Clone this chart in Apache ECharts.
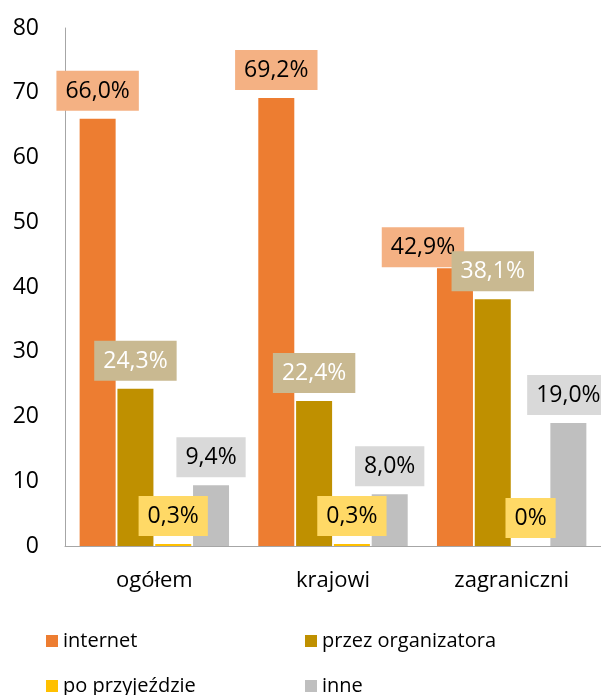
<!DOCTYPE html>
<html>
<head>
<meta charset="utf-8">
<script src="https://cdn.jsdelivr.net/npm/echarts@6/dist/echarts.min.js"></script>
<style>
  html, body { margin: 0; padding: 0; background: #fff; }
  #chart { width: 601px; height: 695px; }
</style>
</head>
<body>
<div id="chart"></div>
<script>
var categories = ['ogółem', 'krajowi', 'zagraniczni']
var seriesNames = ['internet', 'przez organizatora', 'po przyjeździe', 'inne']
var internet = [66.0, 69.2, 42.9]
var organizator = [24.3, 22.4, 38.1]
var poPrzyjezdzie = [0.3, 0.3, 0]
var inne = [9.4, 8.0, 19.0]
var yTicks = [0, 10, 20, 30, 40, 50, 60, 70, 80]

var colors = ['#ED7D31', '#BF9000', '#FFC000', '#BFBFBF']
var labelBg = ['#F4B183', '#C9B991', '#FFD966', '#D9D9D9']
var labelColor = ['#000', '#fff', '#000', '#000']
var font = 'Open Sans'

function fmt (p) {
  var v = p.value
  if (v === 0) return '0%'
  return v.toFixed(1).replace('.', ',') + '%'
}

function makeSeries (idx, values) {
  return {
    name: seriesNames[idx],
    type: 'bar',
    barWidth: 36,
    barGap: '5%',
    itemStyle: { color: colors[idx] },
    label: {
      show: true,
      position: 'top',
      distance: 8,
      formatter: fmt,
      fontFamily: font,
      fontSize: 23,
      color: labelColor[idx],
      backgroundColor: labelBg[idx],
      padding: [9, 9, 8, 9]
    },
    data: values
  }
}

var chart = echarts.init(document.getElementById('chart'))

// etykieta 42,9% przesunięta w lewo jak w oryginale
var internetData = internet.map(function (v, i) {
  if (i === 2) return { value: v, label: { offset: [-32, 7] } }
  return v
})

var legendPos = [
  { left: 46, top: 631 },
  { left: 305, top: 631 },
  { left: 46, top: 676 },
  { left: 305, top: 676 }
]

var option = {
  animation: false,
  grid: { left: 65, top: 28, width: 540, height: 518 },
  legend: seriesNames.map(function (n, i) {
    return {
      data: [n],
      left: legendPos[i].left,
      top: legendPos[i].top,
      padding: 0,
      icon: 'rect',
      itemWidth: 12,
      itemHeight: 12,
      textStyle: { fontFamily: font, fontSize: 20, color: '#000' }
    }
  }),
  xAxis: {
    type: 'category',
    data: categories,
    axisLine: { lineStyle: { color: '#A6A6A6', width: 1 } },
    axisTick: { show: false },
    axisLabel: { margin: 24, fontFamily: font, fontSize: 22, color: '#000' }
  },
  yAxis: {
    type: 'value',
    min: yTicks[0],
    max: yTicks[yTicks.length - 1],
    interval: 10,
    splitLine: { show: false },
    axisLine: { show: true, lineStyle: { color: '#A6A6A6', width: 1 } },
    axisTick: { show: false },
    axisLabel: { margin: 26, fontFamily: font, fontSize: 23, color: '#000' }
  },
  series: [
    makeSeries(0, internetData),
    makeSeries(1, organizator),
    makeSeries(2, poPrzyjezdzie),
    makeSeries(3, inne)
  ]
}

chart.setOption(option)
</script>
</body>
</html>
